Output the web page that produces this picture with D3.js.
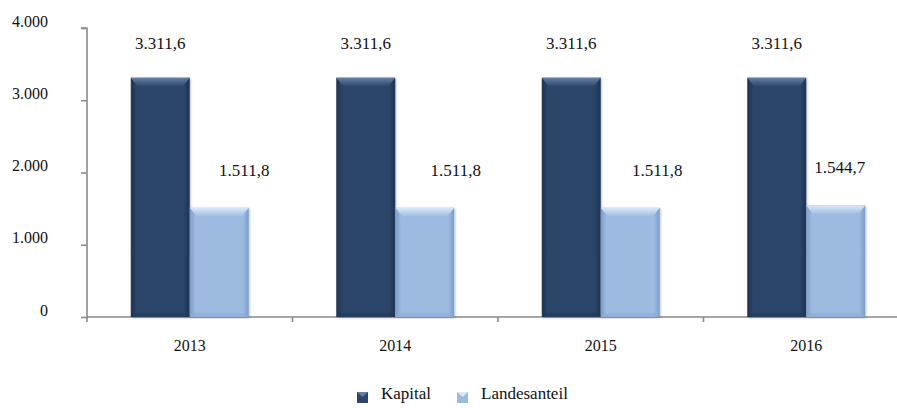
<!DOCTYPE html>
<html><head><meta charset="utf-8">
<script src="https://cdn.jsdelivr.net/npm/d3@7"></script>
<style>
html,body{margin:0;padding:0;background:#fff;}
svg{display:block;}
</style></head>
<body><svg id="chart" width="897" height="408"></svg>
<script>
const years = ["2013","2014","2015","2016"];
const seriesNames = ["Kapital","Landesanteil"];
const kapital = [3311.6, 3311.6, 3311.6, 3311.6];
const landesanteil = [1511.8, 1511.8, 1511.8, 1544.7];
const yTicks = [0, 1000, 2000, 3000, 4000];
const labelTexts = {Kapital:["3.311,6","3.311,6","3.311,6","3.311,6"], Landesanteil:["1.511,8","1.511,8","1.511,8","1.544,7"]};

const colors = {
  Kapital:{body:"#2c4568", top:"#6580a6", side:"#1e3252", bottom:"#243a5a"},
  Landesanteil:{body:"#9dbbe1", top:"#dbe9f7", side:"#7c9cc6", bottom:"#8eaed6"}
};
const lightLabelDx = [25, 31, 27, 4];
const FONT = "Times New Roman, Liberation Serif, Times, DejaVu Serif, serif";

const svg = d3.select("#chart");
const defs = svg.append("defs");
const x0 = d3.scaleBand().domain(years).range([87, 909]).padding(0);
const bw = x0.bandwidth();
const x1 = d3.scaleBand().domain(seriesNames).range([bw*0.213, bw*0.787]).padding(0);
const y = d3.scaleLinear().domain([0, 4000]).range([317, 28]);

const fmt = v => d3.formatLocale({decimal:",", thousands:".", grouping:[3], currency:["",""]}).format(",.0f")(v);

// y axis
const yAxis = d3.axisLeft(y).tickValues(yTicks).tickSize(6).tickFormat(() => "");
const gy = svg.append("g").attr("transform","translate(87,0)").call(yAxis);
gy.select(".domain").attr("stroke","#8a8a8a").attr("stroke-width",1.6).attr("d","M-6,28H0V317");
gy.selectAll(".tick line").attr("stroke","#8a8a8a").attr("stroke-width",1.6);
svg.append("g").selectAll("text").data(yTicks).join("text")
  .attr("x",48).attr("y",d=>y(d)-1.5).attr("text-anchor","end")
  .style("font-family",FONT).attr("font-size",16).attr("fill","#111").text(d=>fmt(d));

// x axis
const xAxis = d3.axisBottom(x0).tickSize(0).tickFormat("");
const gx = svg.append("g").attr("transform","translate(0,317)").call(xAxis);
gx.select(".domain").attr("stroke","#8a8a8a").attr("stroke-width",1.6).attr("d","M87,0H909");
gx.selectAll(".tick").remove();
const boundaries = years.map(d=>x0(d)).concat([x0(years[years.length-1])+bw]);
gx.selectAll("line.b").data(boundaries).join("line").attr("class","b")
  .attr("x1",d=>d).attr("x2",d=>d).attr("y1",0).attr("y2",5)
  .attr("stroke","#8a8a8a").attr("stroke-width",1.6);
svg.append("g").selectAll("text").data(years).join("text")
  .attr("x",d=>x0(d)+bw/2).attr("y",351).attr("text-anchor","middle")
  .style("font-family",FONT).attr("font-size",16).attr("fill","#111").text(d=>d);

// gradients for bevel sides
seriesNames.forEach(s=>{
  const c = colors[s];
  const g = defs.append("linearGradient").attr("id","body-"+s).attr("x1",0).attr("x2",1).attr("y1",0).attr("y2",0);
  g.append("stop").attr("offset","0").attr("stop-color",c.side);
  g.append("stop").attr("offset","0.1").attr("stop-color",c.body);
  g.append("stop").attr("offset","0.9").attr("stop-color",c.body);
  g.append("stop").attr("offset","1").attr("stop-color",c.side);
  const t = defs.append("linearGradient").attr("id","top-"+s).attr("x1",0).attr("x2",0).attr("y1",0).attr("y2",1);
  t.append("stop").attr("offset","0").attr("stop-color",c.top);
  t.append("stop").attr("offset","1").attr("stop-color",c.body);
});
const shadow = defs.append("filter").attr("id","sh").attr("x","-20%").attr("y","-20%").attr("width","140%").attr("height","140%");
shadow.append("feDropShadow").attr("dx",1).attr("dy",1).attr("stdDeviation",1.2).attr("flood-color","#000").attr("flood-opacity",0.25);

const rows = years.map((yr,i)=>({year:yr, i, vals:[{s:"Kapital",v:kapital[i]},{s:"Landesanteil",v:landesanteil[i]}]}));
const groups = svg.append("g").selectAll("g").data(rows).join("g")
  .attr("transform",d=>`translate(${x0(d.year)},0)`);
const bars = groups.selectAll("g.bar").data(d=>d.vals.map(v=>({...v,i:d.i}))).join("g").attr("class","bar");
const b = x1.bandwidth();
const bev = 9;
bars.append("rect")
  .attr("x",d=>x1(d.s)).attr("y",d=>y(d.v)).attr("width",b).attr("height",d=>y(0)-y(d.v))
  .attr("fill",d=>`url(#body-${d.s})`).attr("filter","url(#sh)");
bars.append("path")
  .attr("d",d=>{const x=x1(d.s), t=y(d.v); return `M${x},${t}H${x+b}L${x+b-bev*0.8},${t+bev}H${x+bev*0.8}Z`;})
  .attr("fill",d=>`url(#top-${d.s})`);
bars.append("path")
  .attr("d",d=>{const x=x1(d.s), bt=y(0); return `M${x},${bt}H${x+b}L${x+b-4},${bt-4}H${x+4}Z`;})
  .attr("fill",d=>colors[d.s].bottom).attr("opacity",0.7);

// value labels
bars.append("text")
  .attr("x",d=>x1(d.s)+b/2+(d.s==="Landesanteil"?lightLabelDx[d.i]:0))
  .attr("y",d=>y(d.v)-(d.s==="Kapital"?29:32))
  .attr("text-anchor","middle").style("font-family",FONT).attr("font-size",17).attr("fill","#111")
  .text(d=>labelTexts[d.s][d.i]);

// legend
const legend = svg.append("g");
const legendX = [357, 457];
seriesNames.forEach((s,k)=>{
  const g = legend.append("g").attr("transform",`translate(${legendX[k]},392)`);
  g.append("rect").attr("width",11).attr("height",11).attr("fill",colors[s].body);
  g.append("path").attr("d","M0,0H11L5.5,5Z").attr("fill",colors[s].top);
  g.append("text").attr("x",24).attr("y",7).style("font-family",FONT).attr("font-size",17).attr("fill","#111").text(s);
});
</script></body></html>
